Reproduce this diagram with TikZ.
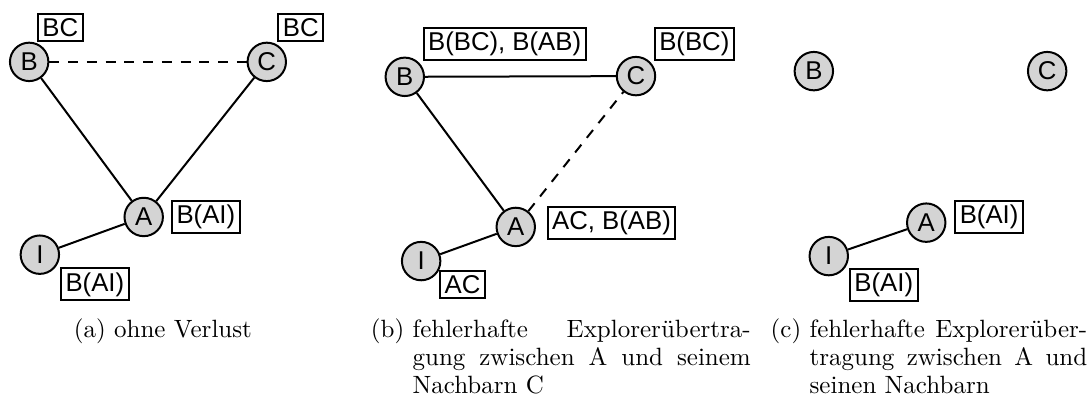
\documentclass[tikz,border=0pt]{standalone}
\usepackage{fontspec}
\newfontfamily\labelfont{Liberation Sans}
\usetikzlibrary{positioning}
\newcommand{\figcap}[2]{\setbox0\hbox{(#1)\ }\hangindent=\wd0 \hangafter=1 \noindent\box0 #2\par}

\begin{document}
\begin{tikzpicture}[thick, font=\labelfont\fontsize{10.3}{12}\selectfont]
    \tikzstyle{knoten}=[circle, fill=black!17, draw=black, minimum size=0.54cm, inner sep=0pt]
    \tikzstyle{info}=[draw=black, inner xsep=1.8pt, inner ysep=1.6pt]
    \tikzstyle{verlust}=[dash pattern=on 4pt off 3.5pt]
    \tikzstyle{caption}=[font=\rmfamily\fontsize{10}{11.2}\selectfont, inner sep=0pt]

    \useasboundingbox (0,0) rectangle (15.28,-5.61);

    % (a) ohne Verlust
    \foreach \name/\x/\y in {B/0.41/-0.87, C/3.75/-0.87, A/2.02/-3.05, I/0.56/-3.58}
        \node[knoten] (a-\name) at (\x,\y) {\name};

    \draw[verlust] (a-B) -- (a-C);
    \draw (a-B) -- (a-A);
    \draw (a-C) -- (a-A);
    \draw (a-A) -- (a-I);

    \node[info, above right=0cm and 0.11cm of a-B.north] (a-lB) {BC};
    \node[info, above right=0cm and 0.15cm of a-C.north] (a-lC) {BC};
    \node[info, right=0.1cm of a-A] (a-lA) {B(AI)};
    \node[info, below right=0.18cm and 0cm of a-I.east] (a-lI) {B(AI)};

    \node[caption, anchor=base] (a-cap) at (2.29,-4.74) {(a) ohne Verlust};

    % (b) Verlust zwischen A und C
    \foreach \name/\x/\y in {B/5.69/-1.08, C/8.94/-1.07, A/7.25/-3.19, I/5.92/-3.67}
        \node[knoten] (b-\name) at (\x,\y) {\name};

    \draw (b-B) -- (b-C);
    \draw (b-B) -- (b-A);
    \draw[verlust] (b-A) -- (b-C);
    \draw (b-A) -- (b-I);

    \node[info, above right=-0.06cm and 0.25cm of b-B.north] (b-lB) {B(BC), B(AB)};
    \node[info, above right=-0.07cm and 0.25cm of b-C.north] (b-lC) {B(BC)};
    \node[info, right=0.15cm of b-A, yshift=0.06cm] (b-lA) {AC, B(AB)};
    \node[info, below right=0.13cm and -0.03cm of b-I.east] (b-lI) {AC};

    \node[caption, text width=5.34cm, align=justify, anchor=base west] (b-cap) at (5.2,-4.74)
        {\sloppy\figcap{b}{fehlerhafte Explorerübertra-\linebreak gung zwischen A und seinem\linebreak Nachbarn C}};

    % (c) Verlust zwischen A und allen Nachbarn
    \foreach \name/\x/\y in {B/11.44/-1.00, C/14.72/-1.00, A/13.02/-3.13, I/11.65/-3.60}
        \node[knoten] (c-\name) at (\x,\y) {\name};

    \draw (c-A) -- (c-I);

    \node[info, right=0.11cm of c-A, yshift=0.08cm] (c-lA) {B(AI)};
    \node[info, below right=0.17cm and 0cm of c-I.east] (c-lI) {B(AI)};

    \node[caption, text width=4.45cm, align=justify, anchor=base west] (c-cap) at (10.82,-4.74)
        {\sloppy\figcap{c}{fehlerhafte Explorerüber-\linebreak tragung zwischen A und\linebreak seinen Nachbarn}};
\end{tikzpicture}
\end{document}
